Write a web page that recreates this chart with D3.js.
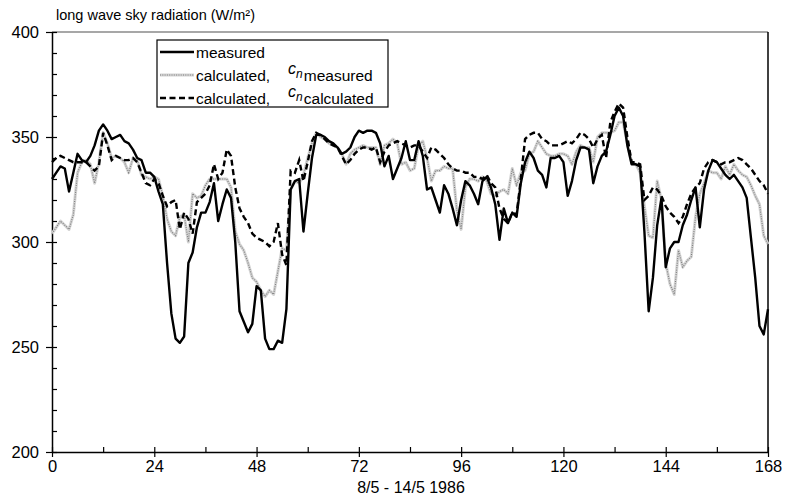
<!DOCTYPE html>
<html><head><meta charset="utf-8">
<script src="https://cdn.jsdelivr.net/npm/d3@7"></script>
<style>body{margin:0;background:#fff}svg{display:block;font-family:"Liberation Sans",Arial,sans-serif}</style>
</head><body><svg id="c" width="786" height="499"></svg>
<script>
const hours = d3.range(0, 169);
const xTicks = [0, 24, 48, 72, 96, 120, 144, 168];
const yTicks = [200, 250, 300, 350, 400];
const measured = [330,333,336,335,324,333,342,339,338,341,346,353,356,353,349,350,351,348,347,344,340,339,333,333,
331,324,318,290,266,254,252,255,290,295,307,314,314,319,328,310,318,325,321,300,267,262,257,261,
279,277,254,249,249,253,252,268,325,329,330,305,323,340,351,351,350,348,347,345,342,343,345,350,
353,352,353,353,352,347,336,341,330,335,340,348,339,339,348,341,325,326,320,314,327,323,316,308,
320,329,327,323,318,329,331,326,318,301,316,309,314,312,328,338,343,340,334,332,326,340,340,341,
338,322,329,339,345,345,344,328,336,341,343,351,360,364,360,346,337,337,336,305,267,283,308,321,
288,297,300,300,308,313,320,326,307,325,334,339,338,335,332,330,332,329,326,321,302,283,260,256,268];
const calcMeasured = [304,307,310,308,306,313,333,338,339,337,328,338,352,347,340,341,340,338,333,340,339,332,331,330,
331,330,322,311,305,303,312,313,300,323,321,322,327,330,330,330,330,330,326,305,299,296,290,283,
281,277,274,277,275,286,297,296,325,329,328,332,340,347,352,350,349,347,346,345,342,337,342,344,
345,346,345,345,345,337,346,347,349,347,337,338,334,335,346,348,340,329,334,334,336,335,335,315,
306,326,330,330,329,331,329,323,322,324,325,323,335,327,333,334,342,343,348,345,342,341,341,342,
342,341,337,343,346,345,345,338,350,352,352,352,353,357,357,347,338,337,333,317,303,302,329,320,
290,280,275,296,288,291,293,312,323,328,334,333,333,330,336,332,337,334,332,331,327,322,318,303,299];
const calcCalculated = [338,340,341,340,339,338,338,338,338,336,334,336,352,346,339,341,340,339,339,340,338,333,328,327,
330,328,322,317,319,320,306,314,311,304,319,321,323,327,337,330,333,344,341,326,316,312,309,304,
302,301,300,298,300,309,294,289,334,333,339,329,338,348,352,351,349,347,346,345,341,337,339,342,
344,345,345,344,345,338,343,346,347,348,347,346,345,346,346,343,340,345,344,342,340,337,335,334,
334,333,333,331,331,330,332,328,326,316,311,309,314,313,330,349,351,352,352,349,348,346,346,346,
347,348,347,349,352,351,349,345,349,351,340,357,362,366,364,350,338,338,337,320,322,326,325,322,
317,314,312,309,312,318,323,326,328,335,338,339,338,337,338,338,339,340,339,337,335,332,329,327,323];
const legendLabels = ["measured", "calculated,", "calculated,"];
const legendTails = ["", "measured", "calculated"];

const svg = d3.select("#c");
const L = 52, R = 768, T = 32, B = 452;
const x = d3.scaleLinear().domain([0, 168]).range([L, R]);
const y = d3.scaleLinear().domain([200, 400]).range([B, T]);

svg.append("line").attr("x1", L).attr("x2", R).attr("y1", T).attr("y2", T).attr("stroke", "#8a8a8a").attr("stroke-width", 1.5);
svg.append("line").attr("x1", R).attr("x2", R).attr("y1", T).attr("y2", B).attr("stroke", "#000").attr("stroke-width", 1.5);

const yAx = svg.append("g").attr("transform", `translate(${L},0)`);
yAx.call(d3.axisLeft(y).tickValues(d3.range(200, 401, 10)).tickSize(0).tickFormat(""));
yAx.select(".domain").attr("stroke", "#000").attr("stroke-width", 1.5);
yAx.selectAll(".tick line").remove();
yAx.selectAll(".tick").append("line").attr("x1", d => yTicks.includes(d) ? -6 : 0).attr("x2", 5).attr("stroke", "#000").attr("stroke-width", 1.2);
yAx.selectAll(".tick").filter(d => yTicks.includes(d)).append("text")
  .attr("x", -13).attr("dy", "0.35em").attr("text-anchor", "end").attr("fill", "#000")
  .style("font-size", "16.5px").text(d => d);

const xAx = svg.append("g").attr("transform", `translate(0,${B})`);
xAx.call(d3.axisBottom(x).tickValues(d3.range(0, 169, 12)).tickSize(0).tickFormat(""));
xAx.select(".domain").attr("stroke", "#000").attr("stroke-width", 1.5);
xAx.selectAll(".tick line").remove();
xAx.selectAll(".tick").append("line").attr("y1", -5).attr("y2", d => xTicks.includes(d) ? 5 : 0).attr("stroke", "#000").attr("stroke-width", 1.2);
xAx.selectAll(".tick").filter(d => xTicks.includes(d)).append("text")
  .attr("y", 20).attr("text-anchor", "middle").attr("fill", "#000")
  .style("font-size", "16.5px").text(d => d);

svg.append("text").attr("x", 411).attr("y", 493).attr("text-anchor", "middle").style("font-size", "16px").text("8/5 - 14/5 1986");
svg.append("text").attr("x", 56).attr("y", 20).style("font-size", "14.5px").text("long wave sky radiation (W/m²)");

const line = d3.line().x((d, i) => x(hours[i])).y(d => y(d));
const g = svg.append("g");
function greyLine(sel) {
  sel.append("path").attr("fill", "none").attr("stroke", "#d4d4d4").attr("stroke-width", 3).attr("stroke-linejoin", "round");
  sel.append("path").attr("fill", "none").attr("stroke", "#7e7e7e").attr("stroke-width", 1.1).attr("stroke-dasharray", "1,1.3");
}
const gg = g.append("g"); greyLine(gg); gg.selectAll("path").attr("d", line(calcMeasured));
g.append("path").attr("d", line(calcCalculated)).attr("fill", "none").attr("stroke", "#000").attr("stroke-width", 2.4).attr("stroke-dasharray", "6,3.5");
g.append("path").attr("d", line(measured)).attr("fill", "none").attr("stroke", "#000").attr("stroke-width", 2.4).attr("stroke-linejoin", "round");

const lg = svg.append("g");
lg.append("rect").attr("x", 157).attr("y", 40).attr("width", 231).attr("height", 67).attr("fill", "#fff").attr("stroke", "#000").attr("stroke-width", 1.2);
const rows = [52, 75, 98];
rows.forEach((ry, i) => {
  if (i === 0) lg.append("line").attr("x1", 160).attr("x2", 194).attr("y1", ry).attr("y2", ry).attr("stroke", "#000").attr("stroke-width", 2.4);
  if (i === 1) { const s = lg.append("g"); greyLine(s); s.selectAll("path").attr("d", `M160,${ry}H194`); }
  if (i === 2) lg.append("line").attr("x1", 160).attr("x2", 194).attr("y1", ry).attr("y2", ry).attr("stroke", "#000").attr("stroke-width", 2.4).attr("stroke-dasharray", "6,3.5");
  const t = lg.append("text").attr("x", 196).attr("y", ry + 5.5).style("font-size", "15.5px").text(legendLabels[i]);
  if (i > 0) {
    t.append("tspan").style("font-style", "italic").style("font-size", "16px").attr("dx", 18).attr("dy", -7).text("c");
    t.append("tspan").style("font-style", "italic").style("font-size", "12px").attr("dy", 4).text("n");
    t.append("tspan").attr("dy", 3).attr("dx", 1).text(legendTails[i]);
  }
});
</script></body></html>
